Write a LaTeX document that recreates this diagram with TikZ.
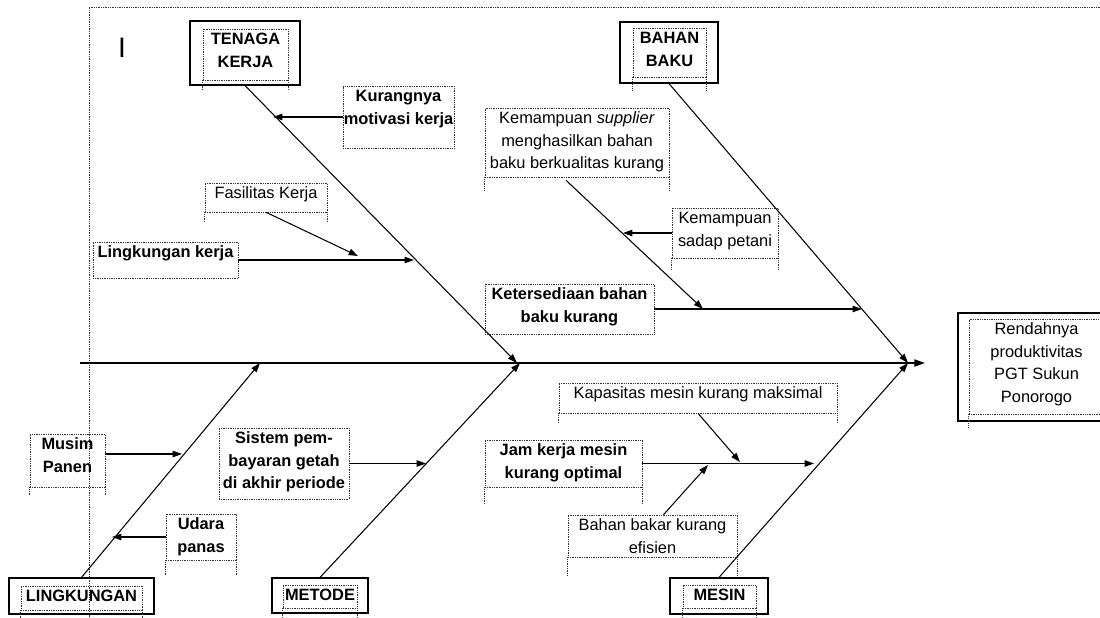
\documentclass[tikz,border=0pt]{standalone}
\usepackage{fontspec}
\setmainfont{Liberation Sans}
\usetikzlibrary{arrows.meta,calc}
\newlength{\pxu}\setlength{\pxu}{0.03cm}
\newcommand{\boxtext}[3]{\parbox[c][#2\pxu][t]{#1\pxu}{\centering\strut #3}}

\begin{document}
\begin{tikzpicture}[x=0.03cm, y=-0.03cm,
    every node/.style={font=\fontsize{14}{19.2}\selectfont, inner sep=0pt},
    dbox/.style={draw=black!80, densely dotted, line width=0.5pt},
    sbox/.style={draw, line width=1pt},
    bone/.style={line width=0.9pt, -{Triangle[length=8pt,width=5.5pt]}},
    spine/.style={line width=1.4pt, -{Triangle[length=9pt,width=6pt]}}]
    \useasboundingbox (0,0) rectangle (1100,617);

    % page frame
    \draw[dbox] (89,617) -- (89,7) -- (1100,7);
    \node (cursor) at (122,48) {\fontsize{24}{24}\selectfont I};

    % spine and head
    \coordinate (s0) at (80,363);
    \coordinate (s1) at (925,363);
    \draw[spine] (s0) -- (s1);
    \node[sbox, minimum width=146\pxu, minimum height=108\pxu] (head) at (1031,367) {};
    \node[dbox] (headt) at (1036.5,366.5) {\boxtext{135}{95}{Rendahnya\\produktivitas\\PGT Sukun\\Ponorogo}};

    % categories
    \node[sbox, minimum width=110\pxu, minimum height=64\pxu] (tk) at (245,53) {};
    \node[dbox] (tkt) at (245.5,54.5) {\boxtext{85}{51}{\bfseries TENAGA\\KERJA}};
    \node[sbox, minimum width=98\pxu, minimum height=61\pxu] (bb) at (669,52.5) {};
    \node[dbox] (bbt) at (669.5,52.5) {\boxtext{73}{49}{\bfseries BAHAN\\BAKU}};
    \node[sbox, minimum width=145\pxu, minimum height=36\pxu] (lk) at (81.5,596) {};
    \node[dbox] (lkt) at (81.5,598) {\boxtext{121}{24}{\bfseries LINGKUNGAN}};
    \node[sbox, minimum width=96\pxu, minimum height=35\pxu] (me) at (320,595.5) {};
    \node[dbox] (met) at (320,596.5) {\boxtext{74}{23}{\bfseries METODE}};
    \node[sbox, minimum width=98\pxu, minimum height=36\pxu] (ms) at (719,596) {};
    \node[dbox] (mst) at (719.5,596.5) {\boxtext{73}{23}{\bfseries MESIN}};

    % causes
    \node[dbox] (kur) at (398.5,117) {\boxtext{111}{62}{\bfseries Kurangnya\\motivasi kerja}};
    \node[dbox] (fas) at (266,197.5) {\boxtext{122}{29}{Fasilitas Kerja}};
    \node[dbox] (lkj) at (165.5,260) {\boxtext{145}{36}{\bfseries Lingkungan kerja}};
    \node[dbox] (sup) at (577,142.5) {\boxtext{184}{69}{Kemampuan \textit{supplier}\\menghasilkan bahan\\baku berkualitas kurang}};
    \node[dbox] (sad) at (725,233) {\boxtext{106}{50}{Kemampuan\\sadap petani}};
    \node[dbox] (ket) at (569.5,309) {\boxtext{169}{50}{\bfseries Ketersediaan bahan\\baku kurang}};
    \node[dbox] (mp) at (67.5,460.5) {\boxtext{75}{53}{\bfseries Musim\\Panen}};
    \node[dbox] (ud) at (201,537) {\boxtext{70}{46}{\bfseries Udara\\panas}};
    \node[dbox] (sis) at (284,463.5) {\boxtext{130}{71}{\bfseries Sistem pem-\\bayaran getah\\di akhir periode}};
    \node[dbox] (kap) at (698,398) {\boxtext{278}{30}{Kapasitas mesin kurang maksimal}};
    \node[dbox] (jam) at (563.5,463.5) {\boxtext{157}{47}{\bfseries Jam kerja mesin\\kurang optimal}};
    \node[dbox] (bbk) at (652.5,536) {\boxtext{169}{42}{Bahan bakar kurang\\efisien}};

    % dotted tails under the boxes
    \foreach \n/\e in {tkt/9, bbt/14, lkt/12, met/12, mst/12, headt/14, fas/10,
                       sup/13, sad/12, mp/8, ud/15, kap/9, jam/16, bbk/18} {
        \draw[dbox] (\n.south west) -- ++(0,\e);
        \draw[dbox] (\n.south east) -- ++(0,\e);
    }

    % main bones
    \coordinate (t1) at (517,363);
    \coordinate (t2) at (908,363);
    \coordinate (b1) at (260,363);
    \coordinate (b2) at (520,363);
    \coordinate (b3) at (908,363);
    \draw[bone] (tk.south) -- (t1);
    \draw[bone] (bb.south) -- (t2);
    \draw[bone] (lk.north) -- (b1);
    \draw[bone] (me.north) -- (b2);
    \draw[bone] (ms.north) -- (b3);

    % sub bones
    \coordinate (a1) at (273,117);
    \coordinate (a2) at (358,256);
    \coordinate (a3) at (414,260);
    \coordinate (a4) at (703,309);
    \coordinate (a5) at (623,233);
    \coordinate (a6) at (862,309);
    \coordinate (a7) at (182,454);
    \coordinate (a8) at (112,537);
    \coordinate (a9) at (426,463.5);
    \coordinate (a10) at (740,462);
    \coordinate (a11) at (814,463.5);
    \coordinate (a12) at (708,465);
    \draw[bone] (kur.west) -- (a1);
    \draw[bone] (fas.south) -- (a2);
    \draw[bone] (lkj.east) -- (a3);
    \draw[bone] ($(sup.south)+(-11,3)$) -- (a4);
    \draw[bone] (sad.west) -- (a5);
    \draw[bone] (ket.east) -- (a6);
    \draw[bone] (mp.east |- a7) -- (a7);
    \draw[bone] (ud.west) -- (a8);
    \draw[bone] (sis.east) -- (a9);
    \draw[bone] (kap.south) -- (a10);
    \draw[bone] (jam.east) -- (a11);
    \draw[bone] ($(bbk.north)+(11,0)$) -- (a12);
\end{tikzpicture}
\end{document}
